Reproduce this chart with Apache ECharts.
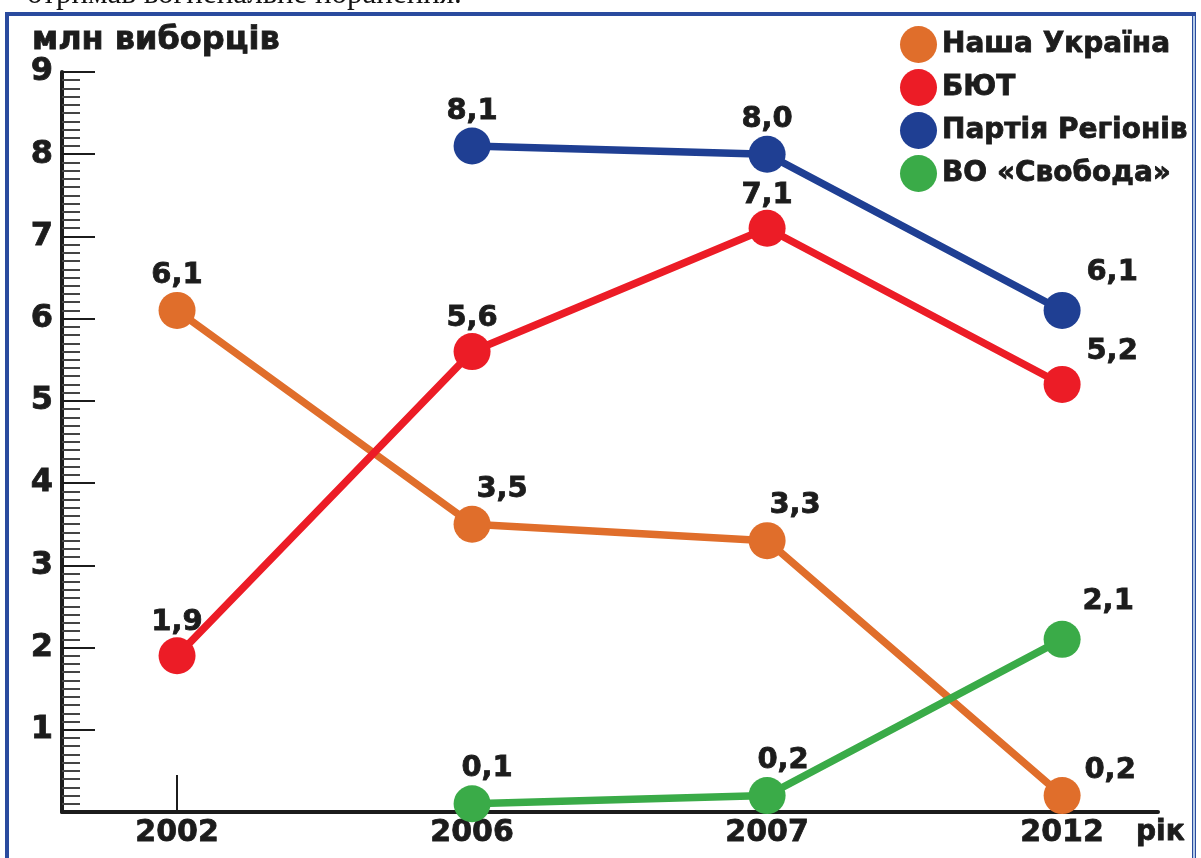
<!DOCTYPE html>
<html>
<head>
<meta charset="utf-8">
<script src="https://cdn.jsdelivr.net/npm/echarts@6/dist/echarts.min.js"></script>
<style>
  html, body { margin: 0; padding: 0; background: #fff; }
  #chart { width: 1201px; height: 858px; }
</style>
</head>
<body>
<div id="chart"></div>
<script>
const years = ["2002", "2006", "2007", "2012"];
const nashaUkraina = [6.1, 3.5, 3.3, 0.2];
const byut = [1.9, 5.6, 7.1, 5.2];
const partiyaRehioniv = [null, 8.1, 8.0, 6.1];
const svoboda = [null, 0.1, 0.2, 2.1];
const yTicks = [1, 2, 3, 4, 5, 6, 7, 8, 9];

const font = "DejaVu Sans";
const ink = "#1c1c1c";
// a thin outline in the text colour makes the glyphs as heavy as the original
const heavy = { fontFamily: font, fontWeight: "bold", color: ink, textBorderColor: ink, textBorderWidth: 0.8 };

// label nudges per point (x, y) relative to the default "top" position
const labelShift = {
    nu: [[0, 0], [30, 0], [28, 0], [48, 10]],
    byut: [[0, 2], [0, 2], [0, 2], [50, 2]],
    pr: [null, [0, 0], [0, 0], [50, -3]],
    sv: [null, [15, 0], [16, 0], [46, -3]]
};

function makeSeries(name, values, color, shifts) {
    const data = [];
    values.forEach((v, i) => {
        if (v === null) return;
        data.push({
            value: [i, v],
            label: { offset: shifts[i] }
        });
    });
    return {
        name: name,
        type: "line",
        data: data,
        symbol: "circle",
        symbolSize: 37,
        lineStyle: { width: 7.5, color: color },
        itemStyle: { color: color },
        z: 3,
        label: Object.assign({
            show: true,
            position: "top",
            distance: 2,
            fontSize: 29,
            formatter: p => p.value[1].toFixed(1).replace(".", ",")
        }, heavy),
        emphasis: { disabled: true }
    };
}

const chart = echarts.init(document.getElementById("chart"));

chart.setOption({
    backgroundColor: "#ffffff",
    animation: false,
    title: {
        text: "млн виборців",
        left: 32,
        top: 25,
        padding: 0,
        textStyle: Object.assign({ fontSize: 32 }, heavy)
    },
    legend: {
        orient: "vertical",
        left: 895,
        top: 21,
        icon: "circle",
        itemWidth: 37,
        itemHeight: 37,
        itemGap: 6,
        textStyle: Object.assign({ fontSize: 28 }, heavy),
        data: ["Наша Україна", "БЮТ", "Партія Регіонів", "ВО «Свобода»"]
    },
    grid: { left: 62, right: 43, top: 72, bottom: 46 },
    xAxis: {
        type: "value",
        min: -0.39,
        max: 3.325,
        splitLine: { show: false },
        axisLine: { lineStyle: { color: ink, width: 4 } },
        axisTick: {
            customValues: [0],
            inside: true,
            length: 37,
            lineStyle: { color: ink, width: 2 }
        },
        axisLabel: Object.assign({
            customValues: [0, 1, 2, 3],
            formatter: v => years[Math.round(v)],
            margin: 6,
            fontSize: 30
        }, heavy),
        name: "рік",
        nameLocation: "end",
        nameGap: -22,
        nameTextStyle: Object.assign({
            fontSize: 28,
            align: "left", verticalAlign: "top", padding: [7, 0, 0, 0]
        }, heavy)
    },
    yAxis: {
        type: "value",
        min: 0,
        max: 9,
        interval: 1,
        splitLine: { show: false },
        axisLine: { show: true, onZero: false, lineStyle: { color: ink, width: 4 } },
        axisTick: { inside: true, length: 33, lineStyle: { color: ink, width: 2 } },
        minorTick: { show: true, splitNumber: 10, length: 18, lineStyle: { color: "#444", width: 2 } },
        axisLabel: Object.assign({
            customValues: yTicks,
            margin: 9,
            fontSize: 32,
            padding: [8, 0, 0, 0]
        }, heavy)
    },
    graphic: [
        {
            type: "text",
            left: 27,
            top: -21,
            z: 0,
            style: {
                text: "отримав вогнепальне поранення.",
                font: "31px 'Liberation Serif'",
                fill: "#111"
            }
        },
        {
            type: "rect",
            z: 10,
            shape: { x: 7, y: 14, width: 1187, height: 870 },
            style: { fill: "none", stroke: "#2a4b9e", lineWidth: 4 }
        },
        {
            type: "rect",
            z: 10,
            shape: { x: 1193, y: 16, width: 2, height: 842 },
            style: { fill: "#b5cbe8" }
        }
    ],
    series: [
        makeSeries("Наша Україна", nashaUkraina, "#e06e2b", labelShift.nu),
        makeSeries("БЮТ", byut, "#ec1c26", labelShift.byut),
        makeSeries("Партія Регіонів", partiyaRehioniv, "#1f3f93", labelShift.pr),
        makeSeries("ВО «Свобода»", svoboda, "#3aab48", labelShift.sv)
    ]
});
</script>
</body>
</html>
